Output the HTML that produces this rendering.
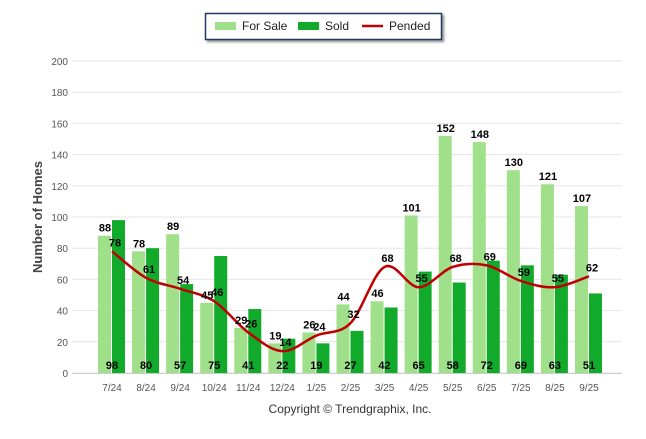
<!DOCTYPE html>
<html><head><meta charset="utf-8"><style>
body{margin:0;background:#fff;font-family:"Liberation Sans",sans-serif;}
svg text{font-family:"Liberation Sans",sans-serif;}
</style></head><body>
<svg width="646" height="434" xmlns="http://www.w3.org/2000/svg">
<g id="grid"></g>
<g id="bars"></g>
<path id="pline" fill="none" stroke="#c00000" stroke-width="2.5"/>
<g id="labels"></g>
<text transform="translate(42,217) rotate(-90)" text-anchor="middle" font-size="13" font-weight="bold" fill="#444">Number of Homes</text>
<g>
<rect x="205.5" y="13.5" width="236" height="26" fill="#fff" stroke="#1f3864" stroke-width="1.5" style="filter:drop-shadow(2px 2px 1px #999)"/>
<g><rect x="215" y="22" width="21" height="8" fill="#a0e08a"/><text x="242" y="30" font-size="12" fill="#222">For Sale</text></g>
<g><rect x="298" y="22" width="21" height="8" fill="#12aa2a"/><text x="325" y="30" font-size="12" fill="#222">Sold</text></g>
<g><line x1="362" y1="26" x2="383" y2="26" stroke="#c00000" stroke-width="2.5"/><text x="389" y="30" font-size="12" fill="#222">Pended</text></g>
</g>
<text x="350" y="413" text-anchor="middle" font-size="12" fill="#333">Copyright © Trendgraphix, Inc.</text>
</svg>
<script>
const categories=["7/24","8/24","9/24","10/24","11/24","12/24","1/25","2/25","3/25","4/25","5/25","6/25","7/25","8/25","9/25"];
const forSale=[88,78,89,45,29,19,26,44,46,101,152,148,130,121,107];
const sold=[98,80,57,75,41,22,19,27,42,65,58,72,69,63,51];
const pended=[78,61,54,46,26,14,24,32,68,55,68,69,59,55,62];
const yTicks=[0,20,40,60,80,100,120,140,160,180,200];
const NS="http://www.w3.org/2000/svg";
const y=v=>373-v*1.56;
const x=i=>112+i*34.07;
function mk(t,a,p){const e=document.createElementNS(NS,t);for(const k in a)e.setAttribute(k,a[k]);p.appendChild(e);return e;}
const grid=document.getElementById('grid'),bars=document.getElementById('bars'),labels=document.getElementById('labels');
yTicks.forEach(v=>{
 const l=mk('line',{x1:72,x2:622,y1:y(v),y2:y(v),stroke:'#e6e6e6','stroke-width':1},grid);
 
 
 const t=mk('text',{x:68,y:y(v)+4,'text-anchor':'end','font-size':10,fill:'#555'},grid);t.textContent=v;
 
 
});
categories.forEach((c,i)=>{
 const t=mk('text',{x:x(i),y:391,'text-anchor':'middle','font-size':10,fill:'#555'},grid);t.textContent=c;
 
 
 const b1=mk('rect',{x:x(i)-14,y:y(forSale[i]),width:13,height:373-y(forSale[i]),fill:'#a0e08a'},bars);
 
 
 const b2=mk('rect',{x:x(i),y:y(sold[i]),width:13,height:373-y(sold[i]),fill:'#12aa2a'},bars);
 
 
 const l1=mk('text',{x:x(i)-7,y:y(forSale[i])-4,'text-anchor':'middle','font-size':11,'font-weight':'bold'},labels);l1.textContent=forSale[i];
 
 
 const l2=mk('text',{x:x(i),y:369,'text-anchor':'middle','font-size':11,'font-weight':'bold'},labels);l2.textContent=sold[i];
 
 
 const l3=mk('text',{x:x(i)+3,y:y(pended[i])-5,'text-anchor':'middle','font-size':11,'font-weight':'bold'},labels);l3.textContent=pended[i];
 
 
});
mk('line',{x1:72,x2:622,y1:373.5,y2:373.5,stroke:'#ccc'},grid);
const P=pended.map((v,i)=>[x(i),y(v)]);
let d='M'+P[0][0]+','+P[0][1];
for(let i=0;i<P.length-1;i++){const p0=P[i-1]||P[i],p1=P[i],p2=P[i+1],p3=P[i+2]||P[i+1];
 d+=` C${p1[0]+(p2[0]-p0[0])/6},${p1[1]+(p2[1]-p0[1])/6} ${p2[0]-(p3[0]-p1[0])/6},${p2[1]-(p3[1]-p1[1])/6} ${p2[0]},${p2[1]}`;}
document.getElementById('pline').setAttribute('d',d);
</script>
</body></html>
